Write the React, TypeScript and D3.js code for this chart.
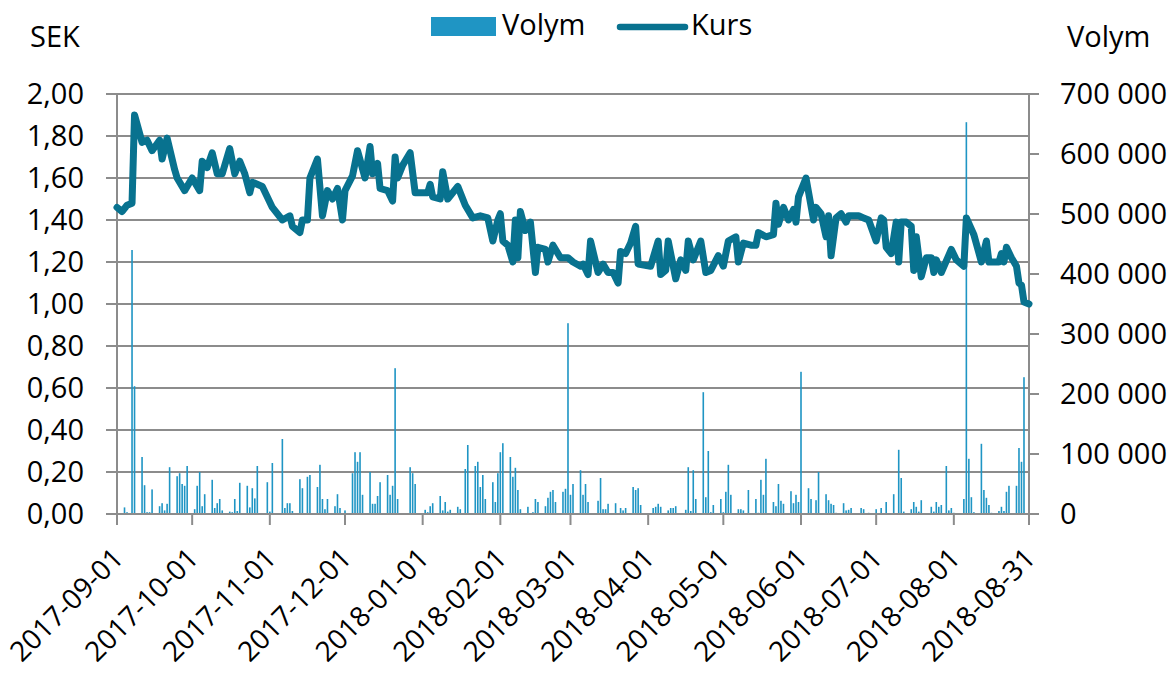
import React, { useEffect, useRef } from 'react';
import * as d3 from 'd3';

// Kurs (SEK) - line series
const kursDates = [
    '2017-09-01', '2017-09-03', '2017-09-05', '2017-09-07', '2017-09-08', '2017-09-11', '2017-09-13', '2017-09-15',
    '2017-09-18', '2017-09-19', '2017-09-21', '2017-09-24', '2017-09-25', '2017-09-28', '2017-10-01', '2017-10-04',
    '2017-10-05', '2017-10-07', '2017-10-09', '2017-10-11', '2017-10-13', '2017-10-16', '2017-10-18', '2017-10-20',
    '2017-10-22', '2017-10-24', '2017-10-25', '2017-10-29', '2017-11-02', '2017-11-06', '2017-11-09', '2017-11-10',
    '2017-11-13', '2017-11-14', '2017-11-16', '2017-11-17', '2017-11-20', '2017-11-22', '2017-11-24', '2017-11-26',
    '2017-11-28', '2017-11-30', '2017-12-01', '2017-12-04', '2017-12-06', '2017-12-09', '2017-12-11', '2017-12-12',
    '2017-12-14', '2017-12-15', '2017-12-18', '2017-12-20', '2017-12-21', '2017-12-22', '2017-12-24', '2017-12-27',
    '2017-12-29', '2018-01-03', '2018-01-04', '2018-01-05', '2018-01-08', '2018-01-09', '2018-01-11', '2018-01-13',
    '2018-01-15', '2018-01-18', '2018-01-21', '2018-01-24', '2018-01-27', '2018-01-29', '2018-01-31', '2018-02-01',
    '2018-02-02', '2018-02-04', '2018-02-06', '2018-02-07', '2018-02-08', '2018-02-09', '2018-02-11', '2018-02-13',
    '2018-02-15', '2018-02-16', '2018-02-19', '2018-02-20', '2018-02-22', '2018-02-25', '2018-02-28', '2018-03-02',
    '2018-03-05', '2018-03-06', '2018-03-08', '2018-03-09', '2018-03-12', '2018-03-14', '2018-03-16', '2018-03-18',
    '2018-03-20', '2018-03-21', '2018-03-23', '2018-03-25', '2018-03-27', '2018-03-28', '2018-04-02', '2018-04-05',
    '2018-04-06', '2018-04-08', '2018-04-09', '2018-04-12', '2018-04-14', '2018-04-16', '2018-04-17', '2018-04-19',
    '2018-04-22', '2018-04-24', '2018-04-26', '2018-04-29', '2018-05-01', '2018-05-03', '2018-05-06', '2018-05-07',
    '2018-05-09', '2018-05-12', '2018-05-14', '2018-05-15', '2018-05-18', '2018-05-21', '2018-05-22', '2018-05-23',
    '2018-05-25', '2018-05-27', '2018-05-29', '2018-05-30', '2018-05-31', '2018-06-03', '2018-06-06', '2018-06-07',
    '2018-06-09', '2018-06-11', '2018-06-12', '2018-06-13', '2018-06-15', '2018-06-17', '2018-06-19', '2018-06-20',
    '2018-06-24', '2018-06-26', '2018-06-28', '2018-07-01', '2018-07-03', '2018-07-04', '2018-07-05', '2018-07-07',
    '2018-07-09', '2018-07-10', '2018-07-11', '2018-07-13', '2018-07-15', '2018-07-16', '2018-07-17', '2018-07-19',
    '2018-07-21', '2018-07-23', '2018-07-24', '2018-07-25', '2018-07-27', '2018-07-31', '2018-08-02', '2018-08-05',
    '2018-08-06', '2018-08-09', '2018-08-12', '2018-08-14', '2018-08-15', '2018-08-19', '2018-08-20', '2018-08-21',
    '2018-08-22', '2018-08-24', '2018-08-26', '2018-08-27', '2018-08-28', '2018-08-29', '2018-08-31'
];
const kursValues = [
    1.46, 1.44, 1.47, 1.48, 1.90, 1.77, 1.78, 1.73,
    1.78, 1.69, 1.79, 1.64, 1.60, 1.54, 1.60, 1.54,
    1.68, 1.65, 1.72, 1.62, 1.62, 1.74, 1.62, 1.68,
    1.62, 1.53, 1.58, 1.56, 1.46, 1.40, 1.42, 1.37,
    1.34, 1.40, 1.40, 1.60, 1.69, 1.42, 1.54, 1.50,
    1.55, 1.40, 1.54, 1.61, 1.73, 1.60, 1.75, 1.62,
    1.67, 1.55, 1.54, 1.49, 1.70, 1.60, 1.66, 1.72,
    1.53, 1.53, 1.57, 1.51, 1.50, 1.63, 1.50, 1.53,
    1.56, 1.47, 1.41, 1.42, 1.41, 1.30, 1.40, 1.43,
    1.30, 1.28, 1.20, 1.40, 1.22, 1.44, 1.35, 1.39,
    1.15, 1.27, 1.26, 1.20, 1.28, 1.22, 1.22, 1.20,
    1.18, 1.19, 1.14, 1.30, 1.15, 1.19, 1.15, 1.15,
    1.10, 1.25, 1.24, 1.29, 1.37, 1.19, 1.18, 1.30,
    1.14, 1.16, 1.30, 1.12, 1.21, 1.16, 1.30, 1.21,
    1.30, 1.15, 1.16, 1.23, 1.18, 1.30, 1.32, 1.20,
    1.29, 1.28, 1.28, 1.34, 1.32, 1.33, 1.48, 1.38,
    1.46, 1.40, 1.45, 1.39, 1.51, 1.60, 1.40, 1.46,
    1.43, 1.32, 1.42, 1.23, 1.41, 1.43, 1.39, 1.42,
    1.42, 1.41, 1.40, 1.30, 1.41, 1.40, 1.27, 1.24,
    1.39, 1.20, 1.39, 1.39, 1.37, 1.16, 1.32, 1.13,
    1.22, 1.22, 1.15, 1.21, 1.15, 1.26, 1.21, 1.18,
    1.41, 1.33, 1.20, 1.30, 1.20, 1.20, 1.24, 1.20,
    1.27, 1.22, 1.18, 1.10, 1.09, 1.01, 1.00
];

// Volym - bar series
const volymDates = [
    '2017-09-04', '2017-09-05', '2017-09-07', '2017-09-08', '2017-09-11', '2017-09-12', '2017-09-13', '2017-09-14',
    '2017-09-15', '2017-09-18', '2017-09-19', '2017-09-20', '2017-09-21', '2017-09-22', '2017-09-25', '2017-09-26',
    '2017-09-27', '2017-09-28', '2017-09-29', '2017-10-02', '2017-10-03', '2017-10-04', '2017-10-05', '2017-10-06',
    '2017-10-09', '2017-10-10', '2017-10-11', '2017-10-12', '2017-10-13', '2017-10-16', '2017-10-17', '2017-10-18',
    '2017-10-19', '2017-10-20', '2017-10-23', '2017-10-24', '2017-10-25', '2017-10-26', '2017-10-27', '2017-10-31',
    '2017-11-01', '2017-11-02', '2017-11-06', '2017-11-07', '2017-11-08', '2017-11-09', '2017-11-10', '2017-11-13',
    '2017-11-14', '2017-11-16', '2017-11-17', '2017-11-20', '2017-11-21', '2017-11-22', '2017-11-23', '2017-11-24',
    '2017-11-27', '2017-11-28', '2017-11-29', '2017-12-01', '2017-12-04', '2017-12-05', '2017-12-06', '2017-12-07',
    '2017-12-08', '2017-12-11', '2017-12-12', '2017-12-13', '2017-12-14', '2017-12-15', '2017-12-18', '2017-12-19',
    '2017-12-20', '2017-12-21', '2017-12-22', '2017-12-27', '2017-12-28', '2017-12-29', '2018-01-02', '2018-01-03',
    '2018-01-04', '2018-01-05', '2018-01-08', '2018-01-09', '2018-01-10', '2018-01-11', '2018-01-12', '2018-01-15',
    '2018-01-16', '2018-01-18', '2018-01-19', '2018-01-22', '2018-01-23', '2018-01-24', '2018-01-25', '2018-01-26',
    '2018-01-29', '2018-01-30', '2018-01-31', '2018-02-01', '2018-02-02', '2018-02-05', '2018-02-06', '2018-02-07',
    '2018-02-08', '2018-02-09', '2018-02-12', '2018-02-14', '2018-02-15', '2018-02-16', '2018-02-19', '2018-02-20',
    '2018-02-21', '2018-02-22', '2018-02-23', '2018-02-26', '2018-02-27', '2018-02-28', '2018-03-01', '2018-03-02',
    '2018-03-05', '2018-03-06', '2018-03-07', '2018-03-08', '2018-03-09', '2018-03-12', '2018-03-13', '2018-03-14',
    '2018-03-15', '2018-03-16', '2018-03-19', '2018-03-21', '2018-03-22', '2018-03-23', '2018-03-26', '2018-03-27',
    '2018-03-28', '2018-03-29', '2018-04-03', '2018-04-04', '2018-04-05', '2018-04-06', '2018-04-09', '2018-04-10',
    '2018-04-11', '2018-04-12', '2018-04-16', '2018-04-17', '2018-04-18', '2018-04-19', '2018-04-20', '2018-04-23',
    '2018-04-24', '2018-04-25', '2018-04-26', '2018-04-27', '2018-04-30', '2018-05-01', '2018-05-02', '2018-05-03',
    '2018-05-04', '2018-05-07', '2018-05-08', '2018-05-09', '2018-05-11', '2018-05-14', '2018-05-15', '2018-05-16',
    '2018-05-17', '2018-05-18', '2018-05-21', '2018-05-22', '2018-05-23', '2018-05-24', '2018-05-25', '2018-05-28',
    '2018-05-29', '2018-05-30', '2018-05-31', '2018-06-01', '2018-06-04', '2018-06-05', '2018-06-07', '2018-06-08',
    '2018-06-11', '2018-06-12', '2018-06-13', '2018-06-14', '2018-06-15', '2018-06-18', '2018-06-19', '2018-06-20',
    '2018-06-21', '2018-06-25', '2018-06-26', '2018-06-28', '2018-07-01', '2018-07-03', '2018-07-05', '2018-07-08',
    '2018-07-10', '2018-07-11', '2018-07-12', '2018-07-15', '2018-07-16', '2018-07-17', '2018-07-18', '2018-07-19',
    '2018-07-23', '2018-07-24', '2018-07-25', '2018-07-26', '2018-07-27', '2018-07-29', '2018-07-30', '2018-07-31',
    '2018-08-01', '2018-08-05', '2018-08-06', '2018-08-07', '2018-08-08', '2018-08-09', '2018-08-12', '2018-08-13',
    '2018-08-14', '2018-08-15', '2018-08-16', '2018-08-19', '2018-08-20', '2018-08-21', '2018-08-22', '2018-08-23',
    '2018-08-26', '2018-08-27', '2018-08-28', '2018-08-29', '2018-08-31'
];
const volymValues = [
    11000, 3000, 440000, 213000, 95000, 48000, 3000, 3000,
    41000, 13000, 18000, 6000, 17000, 78000, 63000, 68000,
    50000, 47000, 80000, 8000, 47000, 70000, 13000, 33000,
    57000, 10000, 18000, 25000, 6000, 4000, 3000, 25000,
    5000, 52000, 47000, 11000, 43000, 26000, 80000, 53000,
    4000, 85000, 125000, 10000, 18000, 18000, 5000, 58000,
    43000, 62000, 65000, 45000, 82000, 25000, 8000, 25000,
    13000, 33000, 10000, 6000, 68000, 103000, 87000, 103000,
    32000, 70000, 17000, 17000, 30000, 53000, 65000, 32000,
    47000, 243000, 25000, 78000, 68000, 50000, 7000, 3000,
    13000, 18000, 30000, 6000, 20000, 4000, 7000, 12000,
    8000, 75000, 115000, 80000, 87000, 45000, 65000, 25000,
    53000, 20000, 68000, 103000, 118000, 95000, 62000, 77000,
    40000, 8000, 12000, 3000, 25000, 20000, 13000, 27000,
    37000, 40000, 20000, 37000, 42000, 318000, 32000, 50000,
    73000, 32000, 50000, 20000, 1000, 22000, 60000, 8000,
    8000, 17000, 18000, 10000, 6000, 10000, 45000, 40000,
    43000, 15000, 10000, 12000, 17000, 12000, 6000, 10000,
    10000, 13000, 7000, 78000, 5000, 73000, 25000, 203000,
    28000, 105000, 3000, 15000, 25000, 3000, 37000, 82000,
    32000, 8000, 8000, 6000, 40000, 25000, 2000, 57000,
    32000, 92000, 20000, 13000, 50000, 22000, 17000, 38000,
    18000, 32000, 20000, 237000, 43000, 25000, 23000, 70000,
    33000, 23000, 17000, 15000, 2000, 18000, 6000, 7000,
    10000, 10000, 8000, 2000, 8000, 10000, 20000, 33000,
    107000, 60000, 4000, 8000, 20000, 12000, 4000, 23000,
    12000, 4000, 20000, 12000, 15000, 80000, 6000, 10000,
    2000, 25000, 653000, 92000, 28000, 3000, 117000, 40000,
    27000, 15000, 2000, 5000, 12000, 5000, 37000, 47000,
    47000, 110000, 87000, 228000, 280000
];

const xTickDates = [
    '2017-09-01', '2017-10-01', '2017-11-01', '2017-12-01', '2018-01-01', '2018-02-01',
    '2018-03-01', '2018-04-01', '2018-05-01', '2018-06-01', '2018-07-01', '2018-08-01', '2018-08-31'
];
const sekTicks = [0, 0.2, 0.4, 0.6, 0.8, 1.0, 1.2, 1.4, 1.6, 1.8, 2.0];
const volymTicks = [0, 100000, 200000, 300000, 400000, 500000, 600000, 700000];

const width = 1175;
const height = 676;
const plot = { left: 117, right: 1029, top: 94, bottom: 514 };
const FONT = '"Open Sans", sans-serif';
const GRID = '#8c8c8c';
const BAR = '#1f95c4';
const LINE = '#08728f';

const App = () => {
    const svgRef = useRef<SVGSVGElement>(null);

    useEffect(() => {
        const svg = d3.select(svgRef.current);
        svg.selectAll('*').remove();

        const parse = d3.timeParse('%Y-%m-%d');
        const x = d3.scaleTime()
            .domain([parse(xTickDates[0]) as Date, parse(xTickDates[xTickDates.length - 1]) as Date])
            .range([plot.left, plot.right]);
        const yL = d3.scaleLinear().domain([0, 2]).range([plot.bottom, plot.top]);
        const yR = d3.scaleLinear().domain([0, 700000]).range([plot.bottom, plot.top]);

        const sv = d3.formatLocale({ decimal: ',', thousands: ' ', grouping: [3], currency: ['', ''] });
        const fmtL = sv.format('.2f');
        const fmtR = sv.format(',.0f');

        // horizontal gridlines (with left tick stubs)
        svg.append('g')
            .selectAll('line')
            .data(sekTicks)
            .enter()
            .append('line')
            .attr('x1', plot.left - 11)
            .attr('x2', plot.right)
            .attr('y1', d => yL(d))
            .attr('y2', d => yL(d))
            .attr('stroke', GRID)
            .attr('stroke-width', 2);

        // volume bars
        svg.append('g')
            .selectAll('rect')
            .data(volymDates.map((d, i) => ({ date: parse(d) as Date, v: volymValues[i] })))
            .enter()
            .append('rect')
            .attr('x', d => x(d.date) - 0.8)
            .attr('width', 1.6)
            .attr('y', d => yR(d.v))
            .attr('height', d => plot.bottom - yR(d.v))
            .attr('fill', BAR);

        // axes lines
        const axes = svg.append('g').attr('stroke', GRID).attr('stroke-width', 2);
        axes.append('line')
            .attr('x1', plot.left).attr('x2', plot.left)
            .attr('y1', plot.top - 1).attr('y2', plot.bottom + 11);
        axes.append('line')
            .attr('x1', plot.right).attr('x2', plot.right)
            .attr('y1', plot.top - 1).attr('y2', plot.bottom + 11);
        axes.append('line')
            .attr('x1', plot.left - 11).attr('x2', plot.right + 10)
            .attr('y1', plot.bottom).attr('y2', plot.bottom);

        // x ticks
        axes.selectAll('.xt')
            .data(xTickDates)
            .enter()
            .append('line')
            .attr('class', 'xt')
            .attr('x1', d => x(parse(d) as Date))
            .attr('x2', d => x(parse(d) as Date))
            .attr('y1', plot.bottom)
            .attr('y2', plot.bottom + 11);

        // right ticks
        axes.selectAll('.rt')
            .data(volymTicks)
            .enter()
            .append('line')
            .attr('class', 'rt')
            .attr('x1', plot.right)
            .attr('x2', plot.right + 10)
            .attr('y1', d => yR(d))
            .attr('y2', d => yR(d));

        // Kurs line
        const line = d3.line<number>()
            .x((d, i) => x(parse(kursDates[i]) as Date))
            .y(d => yL(d));
        svg.append('path')
            .datum(kursValues)
            .attr('d', line)
            .attr('fill', 'none')
            .attr('stroke', LINE)
            .attr('stroke-width', 7)
            .attr('stroke-linejoin', 'round')
            .attr('stroke-linecap', 'round');

        const text = svg.append('g')
            .attr('font-family', FONT)
            .attr('font-size', 29)
            .attr('fill', '#000');

        // left labels
        text.selectAll('.yl')
            .data(sekTicks)
            .enter()
            .append('text')
            .attr('x', 84)
            .attr('y', d => yL(d) + 10)
            .attr('text-anchor', 'end')
            .text(d => fmtL(d));

        // right labels
        text.selectAll('.yr')
            .data(volymTicks)
            .enter()
            .append('text')
            .attr('x', 1060)
            .attr('y', d => yR(d) + 10)
            .text(d => fmtR(d));

        // x labels, rotated
        text.selectAll('.xl')
            .data(xTickDates)
            .enter()
            .append('text')
            .attr('transform', d => `translate(${x(parse(d) as Date) + 8}, 560) rotate(-45)`)
            .attr('text-anchor', 'end')
            .attr('font-size', 28)
            .text(d => d);

        // axis titles
        text.append('text').attr('x', 30).attr('y', 47).text('SEK');
        text.append('text').attr('x', 1067).attr('y', 47).text('Volym');

        // legend
        const legend = svg.append('g').attr('font-family', FONT).attr('font-size', 29);
        legend.append('rect')
            .attr('x', 431).attr('y', 17).attr('width', 65).attr('height', 19)
            .attr('fill', BAR);
        legend.append('text').attr('x', 502).attr('y', 35).text('Volym');
        legend.append('line')
            .attr('x1', 620).attr('x2', 685).attr('y1', 27).attr('y2', 27)
            .attr('stroke', LINE).attr('stroke-width', 6.5).attr('stroke-linecap', 'round');
        legend.append('text').attr('x', 691).attr('y', 35).text('Kurs');
    }, []);

    return (
        <div style={{ position: 'absolute', left: 0, top: 0 }}>
            <svg ref={svgRef} width={width} height={height} style={{ display: 'block', background: '#fff' }}></svg>
        </div>
    );
};

export default App;
